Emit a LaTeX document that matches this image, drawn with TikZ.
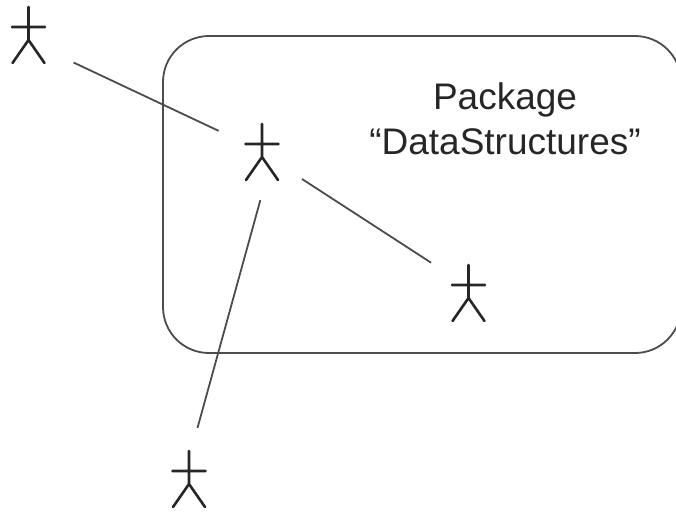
\documentclass[tikz,border=0pt]{standalone}
\usepackage{fontspec}
\setmainfont{Liberation Sans}

\begin{document}
\begin{tikzpicture}
				[x=1pt,y=-1pt,
				actor/.style={circle,minimum size=96pt,inner sep=0pt},
				figure/.style={draw=black!85,line width=2.6pt,line cap=round,line join=round},
				link/.style={draw=black!70,line width=1.8pt},
				package/.style={rectangle,draw=black!70,line width=1.8pt,rounded corners=46pt,minimum width=518pt,minimum height=317pt,inner sep=0pt},
				title/.style={align=center,font=\fontsize{37pt}{45pt}\selectfont,text=black!85,inner sep=0pt}]

				\useasboundingbox (0,0) rectangle (676,512);

				\node[package] (P) at (422,194.5) {};
				\node[title] (T) at (505,119) {Package\\``DataStructures''};

				\foreach \name/\pos in {A/{28.5,35},B/{262,152},C/{468.5,293},D/{189,479}}{
					\node[actor] (\name) at (\pos) {};
					\draw[figure,shift={(\pos)}] (0,-28) -- (0,5) (-16.5,-8) -- (16.5,-8)
						(-16,28) -- (0,5) -- (16,28);
				}

				\draw[link,shorten <=4.6pt] (A.-32) -- (B.154.5);
				\draw[link] (B.-34.4) -- (C.141.5);
				\draw[link,shorten >=3.6pt] (B.-92.4) -- (D.81);
			\end{tikzpicture}
\end{document}
